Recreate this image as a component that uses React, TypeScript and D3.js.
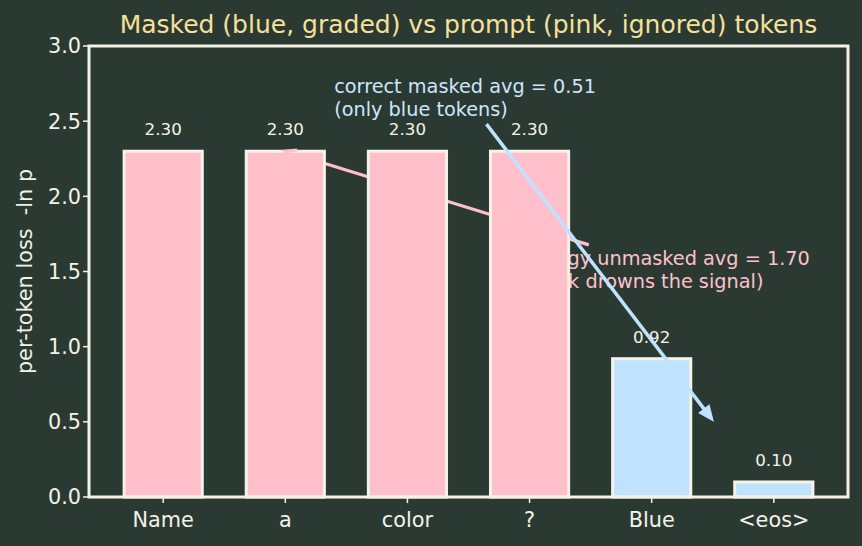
import React from "react";
import * as d3 from "d3";

const categories = ["Name", "a", "color", "?", "Blue", "<eos>"];
const losses = [2.3, 2.3, 2.3, 2.3, 0.92, 0.1];
const masked = [false, false, false, false, true, true];
const yTicks = [0, 0.5, 1.0, 1.5, 2.0, 2.5, 3.0];
const titleText = "Masked (blue, graded) vs prompt (pink, ignored) tokens";
const yLabel = "per-token loss  -ln p";
const blueNote = ["correct masked avg = 0.51", "(only blue tokens)"];
const pinkNote = ["buggy unmasked avg = 1.70", "(junk drowns the signal)"];
// annotation anchors in data units
const blueAnno = { tx: 1.4, ty: 2.69, fx: 2.647, fy: 2.48, hx: 4.5, hy: 0.51 };
const pinkAnno = { tx: 3.01, ty: 1.545, fx: 3.485, fy: 1.677, hx: 1.0, hy: 2.3 };

const W = 862, H = 546;
const M = { left: 89, right: 14, top: 46, bottom: 49 };
const BG = "#2a3a33";
const CREAM = "#f5f2e6";
const PINK = "#ffc0cb";
const BLUE = "#bfe3ff";
const BLUE_TXT = "#cde6fb";
const FONT = "DejaVu Sans, sans-serif";

export default function App() {
  const iw = W - M.left - M.right;
  const ih = H - M.top - M.bottom;
  const x = d3.scaleLinear().domain([-0.6075, 5.6075]).range([M.left, M.left + iw]);
  const y = d3.scaleLinear().domain([0, 3]).range([M.top + ih, M.top]);
  const bw = x(0.64) - x(0);

  const arrow = (a: typeof blueAnno) => {
    const x1 = x(a.fx), y1 = y(a.fy), x2 = x(a.hx), y2 = y(a.hy);
    return { x1, y1, x2, y2, ang: Math.atan2(y2 - y1, x2 - x1) };
  };
  const ba = arrow(blueAnno);
  const pa = arrow(pinkAnno);
  const headLen = 14, headW = 6;
  const bh = (a: ReturnType<typeof arrow>) => {
    const bx = a.x2 - headLen * Math.cos(a.ang), by = a.y2 - headLen * Math.sin(a.ang);
    const px = -Math.sin(a.ang) * headW, py = Math.cos(a.ang) * headW;
    return `M${a.x2},${a.y2} L${bx + px},${by + py} L${bx - px},${by - py} Z`;
  };
  const openHead = (a: ReturnType<typeof arrow>) => {
    const L = 12, spread = 0.4;
    const p1 = [a.x2 - L * Math.cos(a.ang - spread), a.y2 - L * Math.sin(a.ang - spread)];
    const p2 = [a.x2 - L * Math.cos(a.ang + spread), a.y2 - L * Math.sin(a.ang + spread)];
    return `M${p1[0]},${p1[1]} L${a.x2},${a.y2} L${p2[0]},${p2[1]}`;
  };

  return (
    <svg width={W} height={H} style={{ position: "absolute", left: 0, top: 0 }} fontFamily={FONT}>
      <rect x={0} y={0} width={W} height={H} fill={BG} />
      {/* pink annotation (behind bars) */}
      <g>
        <line x1={pa.x1} y1={pa.y1} x2={pa.x2} y2={pa.y2} stroke={PINK} strokeWidth={3.2} />
        {pinkNote.map((t, i) => (
          <text key={i} x={x(pinkAnno.tx)} y={y(pinkAnno.ty) + i * 23} fill={PINK} fontSize={19.3}>{t}</text>
        ))}
      </g>
      {/* bars */}
      {losses.map((v, i) => (
        <rect key={i} x={x(i) - bw / 2} y={y(v)} width={bw} height={y(0) - y(v)}
          fill={masked[i] ? BLUE : PINK} stroke={CREAM} strokeWidth={3} />
      ))}
      <path d={openHead(pa)} stroke={PINK} strokeWidth={3} fill="none" />
      {/* bar value labels */}
      {losses.map((v, i) => (
        <text key={i} x={x(i)} y={y(v + 0.1) - 1} textAnchor="middle" fill={CREAM} fontSize={16.7}>{v.toFixed(2)}</text>
      ))}
      {/* blue annotation */}
      {blueNote.map((t, i) => (
        <text key={i} x={x(blueAnno.tx)} y={y(blueAnno.ty) + i * 23} fill={BLUE_TXT} fontSize={19.3}>{t}</text>
      ))}
      <line x1={ba.x1} y1={ba.y1} x2={ba.x2 - 10 * Math.cos(ba.ang)} y2={ba.y2 - 10 * Math.sin(ba.ang)} stroke={BLUE} strokeWidth={3.5} />
      <path d={bh(ba)} fill={BLUE} stroke={BLUE} strokeWidth={1.5} />
      {/* axes frame */}
      <rect x={M.left} y={M.top} width={iw} height={ih} fill="none" stroke={CREAM} strokeWidth={3} />
      {/* y ticks */}
      {yTicks.map((t) => (
        <g key={t}>
          <line x1={M.left - 6} x2={M.left} y1={y(t)} y2={y(t)} stroke={CREAM} strokeWidth={1.5} />
          <text x={M.left - 8} y={y(t)} dy="0.36em" textAnchor="end" fill={CREAM} fontSize={20.8}>{t.toFixed(1)}</text>
        </g>
      ))}
      {/* x ticks */}
      {categories.map((c, i) => (
        <g key={c}>
          <line x1={x(i)} x2={x(i)} y1={y(0)} y2={y(0) + 6} stroke={CREAM} strokeWidth={1.5} />
          <text x={x(i)} y={y(0) + 30} textAnchor="middle" fill={CREAM} fontSize={20.8}>{c}</text>
        </g>
      ))}
      <text transform={`translate(${32},${M.top + ih / 2}) rotate(-90)`} textAnchor="middle" fill={CREAM} fontSize={20.8} style={{ whiteSpace: "pre" }}>{yLabel}</text>
      <text x={M.left + iw / 2} y={33} textAnchor="middle" fill="#f7e09a" fontSize={25}>{titleText}</text>
    </svg>
  );
}
